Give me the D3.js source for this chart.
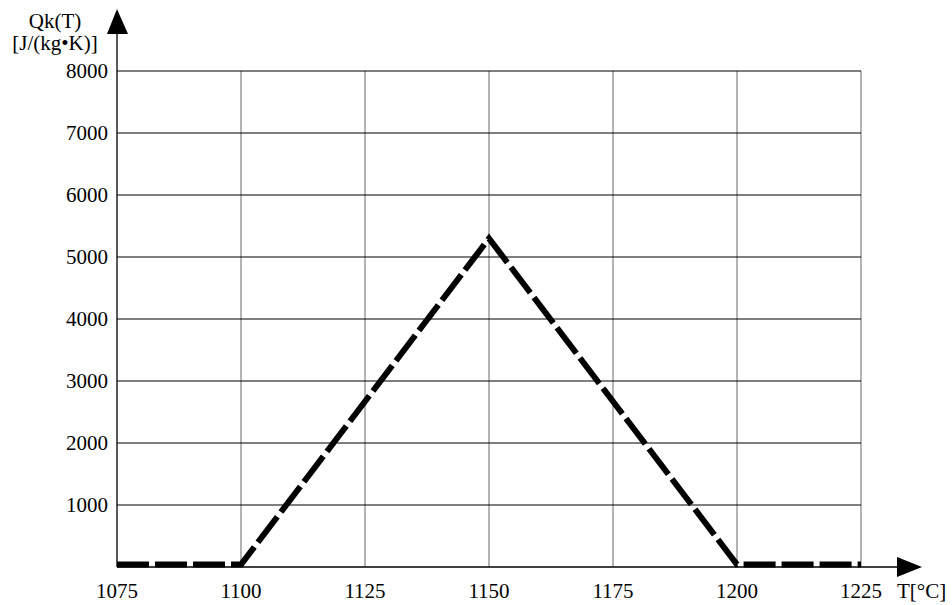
<!DOCTYPE html>
<html lang="en">
<head>
<meta charset="UTF-8">
<title>Qk(T)</title>
<script src="https://d3js.org/d3.v7.min.js"></script>
<style>
  body { margin: 0; background: #fff; }
  text { font-family: "Liberation Serif", "Times New Roman", serif; font-size: 21px; fill: #000; }
</style>
</head>
<body>
<script>
// data
var temps = [1075, 1100, 1150, 1200, 1225];
var qk = [40, 40, 5300, 40, 40];
var xTicks = [1075, 1100, 1125, 1150, 1175, 1200, 1225];
var yTicks = [1000, 2000, 3000, 4000, 5000, 6000, 7000, 8000];

var width = 952, height = 605;
var svg = d3.select("body").append("svg")
    .attr("width", width).attr("height", height);

var x = d3.scaleLinear().domain([1075, 1225]).range([117, 861]);
var y = d3.scaleLinear().domain([0, 8000]).range([567, 71]);

// vertical grid (grey)
svg.selectAll(".vgrid").data(xTicks.slice(1)).enter().append("line")
    .attr("x1", function(d) { return x(d); }).attr("x2", function(d) { return x(d); })
    .attr("y1", y(8000)).attr("y2", y(0))
    .attr("stroke", "#808080").attr("stroke-width", 1.2);

// horizontal grid (black)
svg.selectAll(".hgrid").data(yTicks).enter().append("line")
    .attr("x1", x(1075)).attr("x2", x(1225))
    .attr("y1", function(d) { return y(d); }).attr("y2", function(d) { return y(d); })
    .attr("stroke", "#000").attr("stroke-width", 1.2);

// axes with arrows
svg.append("line").attr("x1", x(1075)).attr("x2", x(1075))
    .attr("y1", y(0)).attr("y2", 30).attr("stroke", "#000").attr("stroke-width", 1.3);
svg.append("path").attr("d", "M117,9 L107,34 L128,34 Z").attr("fill", "#000");

svg.append("line").attr("x1", x(1075)).attr("x2", 900)
    .attr("y1", y(0)).attr("y2", y(0)).attr("stroke", "#000").attr("stroke-width", 1.3);
svg.append("path").attr("d", "M922,567 L897,557 L897,577 Z").attr("fill", "#000");

// tick labels
svg.selectAll(".ylab").data(yTicks).enter().append("text")
    .attr("x", 108).attr("y", function(d) { return y(d) + 7; })
    .attr("text-anchor", "end").text(function(d) { return d; });

svg.selectAll(".xlab").data(xTicks).enter().append("text")
    .attr("x", function(d) { return x(d); }).attr("y", 598)
    .attr("text-anchor", "middle").text(function(d) { return d; });

// axis titles
svg.append("text").attr("x", 55).attr("y", 28).attr("text-anchor", "middle").text("Qk(T)");
svg.append("text").attr("x", 55).attr("y", 50).attr("text-anchor", "middle").text("[J/(kg•K)]");
svg.append("text").attr("x", 897).attr("y", 598).text("T[°C]");

// data line
var line = d3.line()
    .x(function(d, i) { return x(temps[i]); })
    .y(function(d) { return y(d); });

svg.append("path")
    .attr("d", line(qk))
    .attr("fill", "none")
    .attr("stroke", "#000")
    .attr("stroke-width", 6)
    .attr("stroke-dasharray", "32,6");
</script>
</body>
</html>
